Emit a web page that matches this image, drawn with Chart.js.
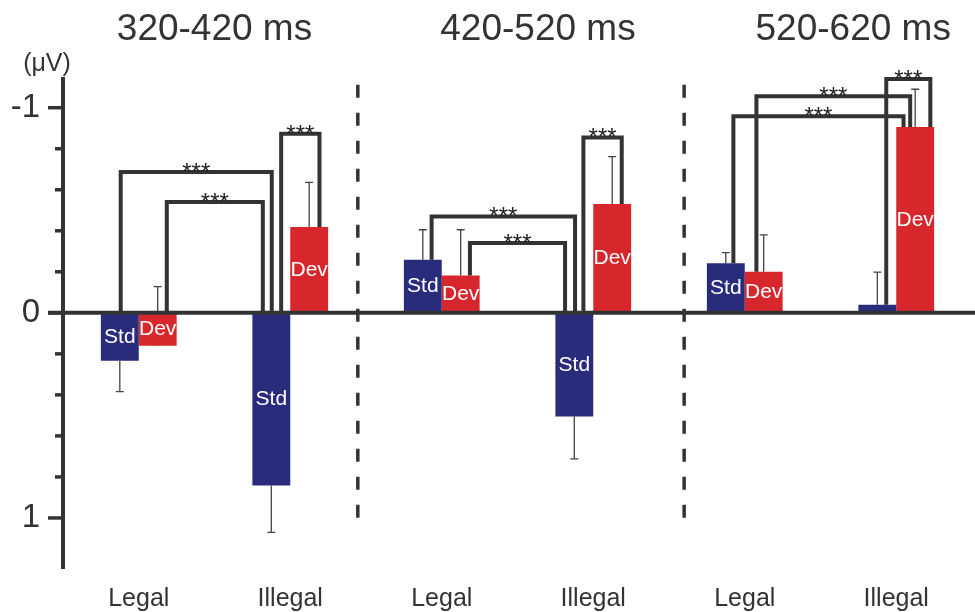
<!DOCTYPE html>
<html lang="en">
<head>
  <meta charset="UTF-8" />
  <title>ERP amplitudes</title>
  <script src="https://cdn.jsdelivr.net/npm/chart.js"></script>
  <style>
    body {
      margin: 0;
      background: #fff;
    }
    canvas {
      display: block;
    }
  </style>
</head>
<body>
  <canvas id="erpChart" width="975" height="612"></canvas>

  <script>
    // values (µV, negative is drawn upwards)
    const categories = ['Legal', 'Illegal', 'Legal', 'Illegal', 'Legal', 'Illegal'];
    const stdValues = [0.233, 0.842, -0.259, 0.506, -0.242, -0.039];
    const devValues = [0.160, -0.418, -0.182, -0.530, -0.200, -0.906];
    // where each error bar ends
    const stdErrTips = [0.384, 1.070, -0.405, 0.712, -0.294, -0.198];
    const devErrTips = [-0.128, -0.636, -0.405, -0.762, -0.380, -1.090];

    const tickValues = [-1, -0.8, -0.6, -0.4, -0.2, 0, 0.2, 0.4, 0.6, 0.8, 1];
    const windowTitles = ['320-420 ms', '420-520 ms', '520-620 ms'];
    const windowTitleAt = [0.5, 2.635, 4.716];   // in category units
    const separatorsAt = [1.446, 3.600];

    // significance brackets: left x, right x, top value, left foot, right foot
    const brackets = [
      [-0.119, 0.878, -0.686, 0, 0],
      [0.185, 0.819, -0.540, 0, 0],
      [0.940, 1.193, -0.873, 0, -0.418],
      [1.933, 2.880, -0.470, -0.259, 0],
      [2.186, 2.814, -0.340, -0.182, 0],
      [2.935, 3.188, -0.855, 0, -0.530],
      [3.925, 5.048, -0.958, -0.242, -0.906],
      [4.077, 5.092, -1.056, -0.200, -0.906],
      [4.934, 5.225, -1.140, -0.039, -0.906]
    ];

    const FONT = '"Liberation Sans", Arial, sans-serif';
    const INK = '#333333';

    const overlay = {
      id: 'overlay',
      beforeDatasetsDraw(chart) {
        const ctx = chart.ctx;
        const y = chart.scales.y;
        ctx.save();
        ctx.strokeStyle = '#444';
        ctx.lineWidth = 1.3;
        [stdErrTips, devErrTips].forEach((tips, d) => {
          const meta = chart.getDatasetMeta(d);
          meta.data.forEach((bar, i) => {
            const tip = y.getPixelForValue(tips[i]);
            ctx.beginPath();
            ctx.moveTo(bar.x, bar.y);
            ctx.lineTo(bar.x, tip);
            ctx.moveTo(bar.x - 4, tip);
            ctx.lineTo(bar.x + 4, tip);
            ctx.stroke();
          });
        });
        ctx.restore();
      },
      afterDatasetsDraw(chart) {
        const ctx = chart.ctx;
        const x = chart.scales.x;
        const y = chart.scales.y;
        const area = chart.chartArea;
        ctx.save();

        // bar labels
        ctx.fillStyle = '#fff';
        ctx.font = '21px ' + FONT;
        ctx.textAlign = 'center';
        ctx.textBaseline = 'middle';
        ['Std', 'Dev'].forEach((name, d) => {
          chart.getDatasetMeta(d).data.forEach((bar) => {
            if (Math.abs(bar.y - bar.base) < 25) return;
            ctx.fillText(name, bar.x, (bar.y + bar.base) / 2);
          });
        });

        // zero line
        const y0 = y.getPixelForValue(0);
        ctx.strokeStyle = INK;
        ctx.lineWidth = 4;
        ctx.beginPath();
        ctx.moveTo(48, y0);
        ctx.lineTo(chart.width, y0);
        ctx.stroke();

        // y tick marks
        ctx.lineWidth = 3.5;
        tickValues.forEach((v) => {
          const py = y.getPixelForValue(v);
          ctx.beginPath();
          ctx.moveTo(Number.isInteger(v) ? 48 : 55, py);
          ctx.lineTo(area.left, py);
          ctx.stroke();
        });

        // dashed separators
        ctx.setLineDash([13, 15]);
        ctx.lineWidth = 3.5;
        separatorsAt.forEach((s) => {
          const px = x.getPixelForValue(s);
          ctx.beginPath();
          ctx.moveTo(px, y.getPixelForValue(-1.112));
          ctx.lineTo(px, y.getPixelForValue(1.034));
          ctx.stroke();
        });
        ctx.setLineDash([]);

        // brackets
        ctx.lineWidth = 4;
        ctx.lineJoin = 'miter';
        ctx.fillStyle = '#222';
        ctx.font = '24px ' + FONT;
        ctx.textBaseline = 'alphabetic';
        brackets.forEach(([l, r, top, fl, fr]) => {
          const xl = x.getPixelForValue(l);
          const xr = x.getPixelForValue(r);
          const yt = y.getPixelForValue(top);
          ctx.beginPath();
          ctx.moveTo(xl, y.getPixelForValue(fl));
          ctx.lineTo(xl, yt);
          ctx.lineTo(xr, yt);
          ctx.lineTo(xr, y.getPixelForValue(fr));
          ctx.stroke();
          ctx.fillText('***', (xl + xr) / 2, yt + 8);
        });

        ctx.restore();
      },
      afterDraw(chart) {
        const ctx = chart.ctx;
        const x = chart.scales.x;
        ctx.save();
        ctx.fillStyle = INK;
        ctx.textAlign = 'center';
        ctx.textBaseline = 'middle';
        ctx.font = '37px ' + FONT;
        windowTitles.forEach((t, i) => {
          ctx.fillText(t, x.getPixelForValue(windowTitleAt[i]), 30);
        });
        ctx.font = '25px ' + FONT;
        ctx.fillText('(\u03bcV)', 47, 64);
        ctx.restore();
      }
    };

    new Chart(document.getElementById('erpChart'), {
      type: 'bar',
      data: {
        labels: categories,
        datasets: [
          { label: 'Std', data: stdValues, backgroundColor: '#282c7b' },
          { label: 'Dev', data: devValues, backgroundColor: '#d8262d' }
        ]
      },
      options: {
        responsive: false,
        animation: false,
        devicePixelRatio: 1,
        categoryPercentage: 0.5,
        barPercentage: 1.0,
        layout: { padding: { top: 79, right: 3, left: 0, bottom: 0 } },
        plugins: {
          legend: { display: false },
          tooltip: { enabled: false }
        },
        scales: {
          x: {
            grid: { display: false, drawTicks: false },
            border: { display: false },
            ticks: {
              color: INK,
              font: { family: FONT, size: 25 },
              padding: 16,
              maxRotation: 0
            },
            afterFit(scale) { scale.height = 44; }
          },
          y: {
            reverse: true,
            min: -1.14,
            max: 1.244,
            grid: { display: false, drawTicks: false },
            border: { display: true, color: INK, width: 4 },
            afterBuildTicks(scale) {
              scale.ticks = tickValues.map(v => ({ value: v }));
            },
            ticks: {
              autoSkip: false,
              color: INK,
              font: { family: FONT, size: 33 },
              padding: 23,
              callback: v => (Number.isInteger(v) ? String(v) : '')
            },
            afterFit(scale) { scale.width = 63; }
          }
        }
      },
      plugins: [overlay]
    });
  </script>
</body>
</html>
